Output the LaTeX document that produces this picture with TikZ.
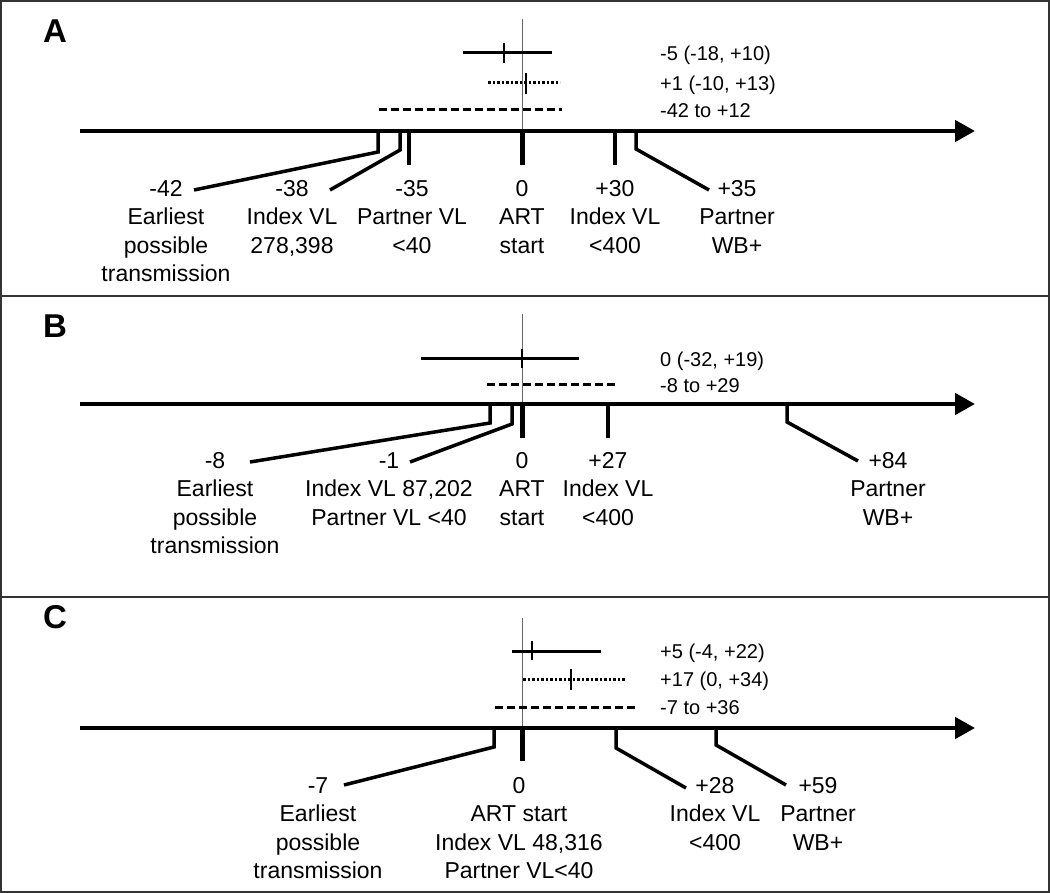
\documentclass[tikz,border=0pt]{standalone}
\usepackage{fontspec}
\setmainfont{Liberation Sans}
\usetikzlibrary{arrows.meta}
\begin{document}
\begin{tikzpicture}[x=1pt,y=-1pt,
  frame/.style={draw=black!80, line width=2pt},
  axisline/.style={line width=4.5pt, -{Triangle[length=20pt,width=21pt]}},
  tickline/.style={line width=3.5pt},
  zerotick/.style={line width=5pt},
  refline/.style={draw=black!60, line width=1pt},
  barline/.style={line width=3pt},
  barmark/.style={line width=2.5pt},
  dotbar/.style={line width=3pt, dash pattern=on 2.5pt off 2pt},
  dashbar/.style={line width=3pt, dash pattern=on 8pt off 4pt},
  lab/.style={font=\fontsize{23}{28.5}\selectfont, align=center, anchor=north, inner sep=0pt},
  est/.style={font=\fontsize{20}{24}\selectfont, anchor=base west, inner sep=0pt},
  panel/.style={font=\fontsize{33}{36}\selectfont\bfseries, inner sep=0pt}
]
\useasboundingbox (0,0) rectangle (1050,893);
% frames
\draw[frame] (1,1) rectangle (1049,892);
\draw[frame] (1,296) -- (1049,296);
\draw[frame] (1,597) -- (1049,597);

% ================= Panel A =================
\node[panel] (pA) at (55,31) {A};
\coordinate (refAt) at (522,19);
\coordinate (axAs) at (80,131);
\coordinate (axAe) at (975,131);
\coordinate (refAb) at (522,131);
\draw[refline] (refAt) -- (refAb);
\draw[axisline] (axAs) -- (axAe);
% estimates
\coordinate (a1l) at (463,53); \coordinate (a1r) at (552,53);
\coordinate (a1t) at (504,43); \coordinate (a1b) at (504,63);
\draw[barline] (a1l) -- (a1r); \draw[barmark] (a1t) -- (a1b);
\coordinate (a2l) at (488,83); \coordinate (a2r) at (560,83);
\coordinate (a2t) at (526,73); \coordinate (a2b) at (526,94);
\draw[dotbar] (a2l) -- (a2r); \draw[barmark] (a2t) -- (a2b);
\coordinate (a3l) at (379,110); \coordinate (a3r) at (562,110);
\draw[dashbar] (a3l) -- (a3r);
\node[est] (ea1) at (660,60.2) {-5 (-18, +10)};
\node[est] (ea2) at (660,90.2) {+1 (-10, +13)};
\node[est] (ea3) at (660,117.2) {-42 to +12};
% ticks
\coordinate (tA1) at (378,131); \coordinate (bA1) at (378,152); \coordinate (eA1) at (194,190);
\coordinate (tA2) at (400,131); \coordinate (bA2) at (400,150); \coordinate (eA2) at (330,190);
\coordinate (tA3) at (409,131); \coordinate (eA3) at (409,165);
\coordinate (tA4) at (522,131); \coordinate (eA4) at (522,165);
\coordinate (tA5) at (615,131); \coordinate (eA5) at (615,165);
\coordinate (tA6) at (636,131); \coordinate (bA6) at (636,149); \coordinate (eA6) at (709,190);
\draw[tickline] (tA1) -- (bA1) -- (eA1);
\draw[tickline] (tA2) -- (bA2) -- (eA2);
\draw[tickline] (tA3) -- (eA3);
\draw[zerotick] (tA4) -- (eA4);
\draw[tickline] (tA5) -- (eA5);
\draw[tickline] (tA6) -- (bA6) -- (eA6);
\node[lab] (lA1) at (166,180) {-42\\Earliest\\possible\\transmission};
\node[lab] (lA2) at (292,180) {-38\\Index VL\\278,398};
\node[lab] (lA3) at (412,180) {-35\\Partner VL\\<40};
\node[lab] (lA4) at (522,180) {0\\ART\\start};
\node[lab] (lA5) at (615,180) {+30\\Index VL\\<400};
\node[lab] (lA6) at (737,180) {+35\\Partner\\WB+};

% ================= Panel B =================
\node[panel] (pB) at (55,326) {B};
\coordinate (refBt) at (522,314);
\coordinate (refBb) at (522,404);
\coordinate (axBs) at (80,404);
\coordinate (axBe) at (975,404);
\draw[refline] (refBt) -- (refBb);
\draw[axisline] (axBs) -- (axBe);
\coordinate (b1l) at (421,359); \coordinate (b1r) at (579,359);
\coordinate (b1t) at (522,349); \coordinate (b1b) at (522,368);
\draw[barline] (b1l) -- (b1r); \draw[barmark] (b1t) -- (b1b);
\coordinate (b3l) at (487,385); \coordinate (b3r) at (618,385);
\draw[dashbar] (b3l) -- (b3r);
\node[est] (eb1) at (660,366.2) {0 (-32, +19)};
\node[est] (eb2) at (660,392.2) {-8 to +29};
\coordinate (tB1) at (490,404); \coordinate (bB1) at (490,423); \coordinate (eB1) at (250,462);
\coordinate (tB2) at (512,404); \coordinate (bB2) at (512,424); \coordinate (eB2) at (410,462);
\coordinate (tB3) at (522,404); \coordinate (eB3) at (522,438);
\coordinate (tB4) at (608,404); \coordinate (eB4) at (608,438);
\coordinate (tB5) at (787,404); \coordinate (bB5) at (787,422); \coordinate (eB5) at (858,461);
\draw[tickline] (tB1) -- (bB1) -- (eB1);
\draw[tickline] (tB2) -- (bB2) -- (eB2);
\draw[zerotick] (tB3) -- (eB3);
\draw[tickline] (tB4) -- (eB4);
\draw[tickline] (tB5) -- (bB5) -- (eB5);
\node[lab] (lB1) at (215,452) {-8\\Earliest\\possible\\transmission};
\node[lab] (lB2) at (389,452) {-1\\Index VL 87,202\\Partner VL <40};
\node[lab] (lB3) at (522,452) {0\\ART\\start};
\node[lab] (lB4) at (608,452) {+27\\Index VL\\<400};
\node[lab] (lB5) at (888,452) {+84\\Partner\\WB+};

% ================= Panel C =================
\node[panel] (pC) at (55,617) {C};
\coordinate (refCt) at (522,618);
\coordinate (refCb) at (522,728);
\coordinate (axCs) at (80,728);
\coordinate (axCe) at (975,728);
\draw[refline] (refCt) -- (refCb);
\draw[axisline] (axCs) -- (axCe);
\coordinate (c1l) at (512,651); \coordinate (c1r) at (601,651);
\coordinate (c1t) at (532,641); \coordinate (c1b) at (532,660);
\draw[barline] (c1l) -- (c1r); \draw[barmark] (c1t) -- (c1b);
\coordinate (c2l) at (523,679); \coordinate (c2r) at (625,679);
\coordinate (c2t) at (571,669); \coordinate (c2b) at (571,690);
\draw[dotbar] (c2l) -- (c2r); \draw[barmark] (c2t) -- (c2b);
\coordinate (c3l) at (495,707); \coordinate (c3r) at (636,707);
\draw[dashbar] (c3l) -- (c3r);
\node[est] (ec1) at (660,658.2) {+5 (-4, +22)};
\node[est] (ec2) at (660,686.2) {+17 (0, +34)};
\node[est] (ec3) at (660,714.2) {-7 to +36};
\coordinate (tC1) at (494,728); \coordinate (bC1) at (494,747); \coordinate (eC1) at (344,785);
\coordinate (tC2) at (522,728); \coordinate (eC2) at (522,761);
\coordinate (tC3) at (616,728); \coordinate (bC3) at (616,748); \coordinate (eC3) at (686,788);
\coordinate (tC4) at (716,728); \coordinate (bC4) at (716,745); \coordinate (eC4) at (786,785);
\draw[tickline] (tC1) -- (bC1) -- (eC1);
\draw[zerotick] (tC2) -- (eC2);
\draw[tickline] (tC3) -- (bC3) -- (eC3);
\draw[tickline] (tC4) -- (bC4) -- (eC4);
\node[lab] (lC1) at (318,777) {-7\\Earliest\\possible\\transmission};
\node[lab] (lC2) at (519,777) {0\\ART start\\Index VL 48,316\\Partner VL<40};
\node[lab] (lC3) at (715,777) {+28\\Index VL\\<400};
\node[lab] (lC4) at (818,777) {+59\\Partner\\WB+};
\end{tikzpicture}
\end{document}
